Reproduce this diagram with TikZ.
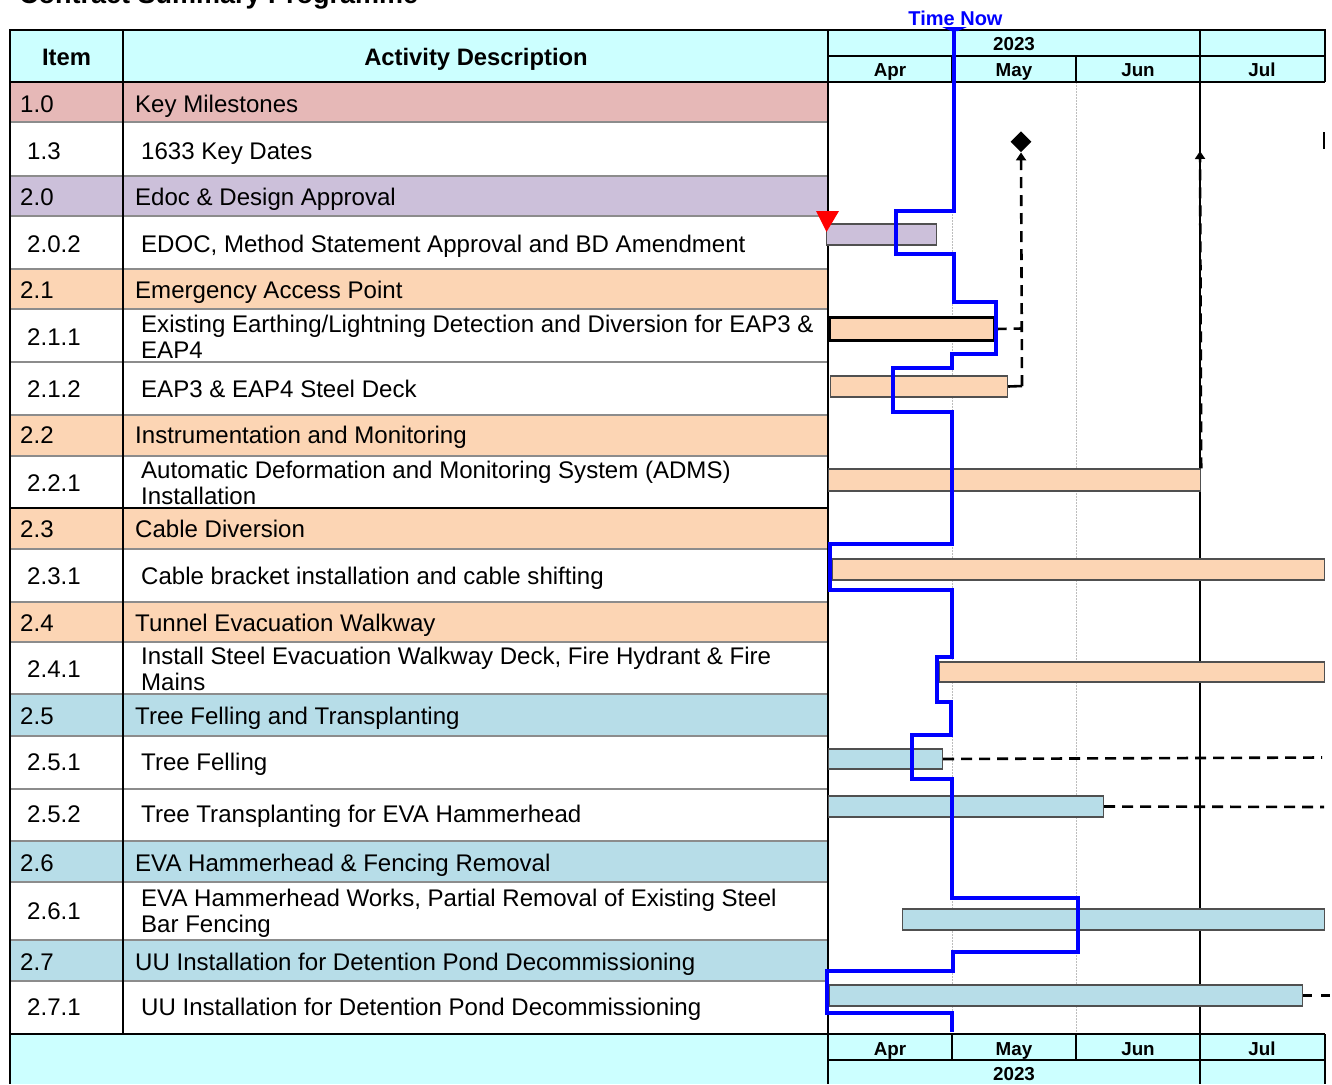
\documentclass[tikz,border=0pt]{standalone}
\usepackage{fontspec}
\setmainfont{Liberation Sans}
\usetikzlibrary{shapes.geometric,arrows.meta}
\definecolor{hdrc}{HTML}{CCFFFF}
\definecolor{pinkc}{HTML}{E6B8B7}
\definecolor{lavc}{HTML}{CCC0DA}
\definecolor{peachc}{HTML}{FCD5B4}
\definecolor{bluec}{HTML}{B7DDE8}
\definecolor{sepc}{HTML}{8C8C8C}
\definecolor{gridc}{HTML}{BDBDBD}
\definecolor{barb}{HTML}{505050}
\definecolor{nowc}{HTML}{0000FF}
\newcommand\rowfont{\fontsize{24.05}{26}\selectfont}
\newcommand\hdrfont{\bfseries\fontsize{23.8}{26}\selectfont}
\newcommand\monfont{\bfseries\fontsize{18.8}{20}\selectfont}
\tikzset{
  rowtxt/.style={anchor=base west, inner sep=0pt, font=\rowfont, text=black},
  hdrtxt/.style={anchor=base, inner sep=0pt, font=\hdrfont},
  montxt/.style={anchor=base, inner sep=0pt, font=\monfont},
  ganttbar/.style={draw=barb, line width=1.2pt, anchor=west, inner sep=0pt, minimum height=21},
  sepline/.style={draw=sepc, line width=1.2pt},
  frameline/.style={draw=black, line width=2pt},
  gridline/.style={draw=gridc, line width=1pt, dash pattern=on 1.5pt off 1.5pt},
  linkdash/.style={draw=black, line width=2.6pt, dash pattern=on 11pt off 7pt},
  nowline/.style={draw=nowc, line width=4pt, line join=miter},
}
\begin{document}
\begin{tikzpicture}[x=1pt,y=-1pt]
\useasboundingbox (0,0) rectangle (1332,1084);
\clip (0,0) rectangle (1332,1084);
% title (cut off at top, as in the reference)
\node[anchor=base west, inner sep=0pt, font=\bfseries\fontsize{27}{30}\selectfont] (title) at (19,4) {Contract Summary Programme};
% backgrounds
\fill[hdrc] (10,30) rectangle (828,82);
\fill[hdrc] (828,30) rectangle (1325,82);
\fill[hdrc] (10,1034) rectangle (828,1084);
\fill[hdrc] (828,1034) rectangle (1325,1084);
\fill[pinkc] (10,82) rectangle (828,122);
\fill[lavc] (10,176) rectangle (828,216);
\fill[peachc] (10,269) rectangle (828,309);
\fill[peachc] (10,415) rectangle (828,456);
\fill[peachc] (10,508) rectangle (828,549);
\fill[peachc] (10,602) rectangle (828,642);
\fill[bluec] (10,694) rectangle (828,736);
\fill[bluec] (10,841) rectangle (828,882);
\fill[bluec] (10,940) rectangle (828,981);
% row separators
\foreach \yy in {122,176,216,269,309,362,415,456,549,602,642,694,736,789,841,882,940,981}
  \draw[sepline] (10,\yy) -- (828,\yy);
\draw[frameline] (10,82) -- (828,82);
\draw[frameline] (10,508) -- (828,508);
\draw[frameline] (10,1034) -- (828,1034);
% gantt grid
\draw[gridline] (952,82) -- (952,1034);
\draw[gridline] (1076,82) -- (1076,1034);
\draw[frameline] (1200,30) -- (1200,1084);
% gantt header/footer
\draw[frameline] (828,30) -- (1325,30) -- (1325,82);
\draw[frameline] (828,56) -- (1325,56);
\draw[frameline] (828,82) -- (1325,82);
\draw[frameline] (952,56) -- (952,82);
\draw[frameline] (1076,56) -- (1076,82);
\draw[frameline] (828,1034) -- (1325,1034);
\draw[frameline] (828,1060) -- (1325,1060);
\draw[frameline] (1325,1034) -- (1325,1084);
\draw[frameline] (952,1034) -- (952,1060);
\draw[frameline] (1076,1034) -- (1076,1060);
% frame of left table
\draw[frameline] (10,30) -- (828,30);
\draw[draw=black, line width=2.4pt] (10,29) -- (10,1084);
\draw[draw=black, line width=1.4pt] (123,30) -- (123,1034);
\draw[draw=black, line width=2.4pt] (828,30) -- (828,1084);
% header texts
\node[hdrtxt] (hitem) at (66.5,65) {Item};
\node[hdrtxt] (hdesc) at (476,65) {Activity Description};
\node[montxt] (yr) at (1014,50) {2023};
\node[montxt] (mapr) at (890,76) {Apr};
\node[montxt] (mmay) at (1014,76) {May};
\node[montxt] (mjun) at (1138,76) {Jun};
\node[montxt] (mjul) at (1262,76) {Jul};
\node[montxt] (fapr) at (890,1055) {Apr};
\node[montxt] (fmay) at (1014,1055) {May};
\node[montxt] (fjun) at (1138,1055) {Jun};
\node[montxt] (fjul) at (1262,1055) {Jul};
\node[montxt] (fyr) at (1014,1080) {2023};
\node[anchor=base, inner sep=0pt, font=\bfseries\fontsize{20}{22}\selectfont, text=nowc] (tnow) at (955.5,25) {Time Now};
% rows: numbers
\node[rowtxt] (n10) at (20,112) {1.0};
\node[rowtxt] (n13) at (27,159) {1.3};
\node[rowtxt] (n20) at (20,205) {2.0};
\node[rowtxt] (n202) at (27,252.5) {2.0.2};
\node[rowtxt] (n21) at (20,298.5) {2.1};
\node[rowtxt] (n211) at (27,345) {2.1.1};
\node[rowtxt] (n212) at (27,397) {2.1.2};
\node[rowtxt] (n22) at (20,443) {2.2};
\node[rowtxt] (n221) at (27,491.5) {2.2.1};
\node[rowtxt] (n23) at (20,537.5) {2.3};
\node[rowtxt] (n231) at (27,584) {2.3.1};
\node[rowtxt] (n24) at (20,631) {2.4};
\node[rowtxt] (n241) at (27,677) {2.4.1};
\node[rowtxt] (n25) at (20,724) {2.5};
\node[rowtxt] (n251) at (27,770.5) {2.5.1};
\node[rowtxt] (n252) at (27,822.5) {2.5.2};
\node[rowtxt] (n26) at (20,871) {2.6};
\node[rowtxt] (n261) at (27,919) {2.6.1};
\node[rowtxt] (n27) at (20,970) {2.7};
\node[rowtxt] (n271) at (27,1015.5) {2.7.1};
% rows: descriptions
\node[rowtxt] (d10) at (135,112) {Key Milestones};
\node[rowtxt] (d13) at (141,159) {1633 Key Dates};
\node[rowtxt] (d20) at (135,205) {Edoc \& Design Approval};
\node[rowtxt] (d202) at (141,252.5) {EDOC, Method Statement Approval and BD Amendment};
\node[rowtxt] (d21) at (135,298.5) {Emergency Access Point};
\node[rowtxt] (d211a) at (141,332.5) {Existing Earthing/Lightning Detection and Diversion for EAP3 \&};
\node[rowtxt] (d211b) at (141,358.5) {EAP4};
\node[rowtxt] (d212) at (141,397) {EAP3 \& EAP4 Steel Deck};
\node[rowtxt] (d22) at (135,443) {Instrumentation and Monitoring};
\node[rowtxt] (d221a) at (141,478.5) {Automatic Deformation and Monitoring System (ADMS)};
\node[rowtxt] (d221b) at (141,504.5) {Installation};
\node[rowtxt] (d23) at (135,537.5) {Cable Diversion};
\node[rowtxt] (d231) at (141,584) {Cable bracket installation and cable shifting};
\node[rowtxt] (d24) at (135,631) {Tunnel Evacuation Walkway};
\node[rowtxt] (d241a) at (141,664) {Install Steel Evacuation Walkway Deck, Fire Hydrant \& Fire};
\node[rowtxt] (d241b) at (141,690) {Mains};
\node[rowtxt] (d25) at (135,724) {Tree Felling and Transplanting};
\node[rowtxt] (d251) at (141,770.5) {Tree Felling};
\node[rowtxt] (d252) at (141,822.5) {Tree Transplanting for EVA Hammerhead};
\node[rowtxt] (d26) at (135,871) {EVA Hammerhead \& Fencing Removal};
\node[rowtxt] (d261a) at (141,906.5) {EVA Hammerhead Works, Partial Removal of Existing Steel};
\node[rowtxt] (d261b) at (141,932.5) {Bar Fencing};
\node[rowtxt] (d27) at (135,970) {UU Installation for Detention Pond Decommissioning};
\node[rowtxt] (d271) at (141,1015.5) {UU Installation for Detention Pond Decommissioning};
% bars
\node[ganttbar, fill=lavc, minimum width=110] (b202) at (826,234.5) {};
\node[ganttbar, fill=peachc, draw=black, line width=2.6pt, minimum width=165, minimum height=23] (b211) at (828,329) {};
\node[ganttbar, fill=peachc, minimum width=177] (b212) at (830,386.5) {};
\node[ganttbar, fill=peachc, minimum width=372, minimum height=22] (b221) at (828,480) {};
\node[ganttbar, fill=peachc, minimum width=492] (b231) at (832,569.5) {};
\node[ganttbar, fill=peachc, minimum width=385, minimum height=20] (b241) at (939,672) {};
\node[ganttbar, fill=bluec, minimum width=114, minimum height=20] (b251) at (828,759) {};
\node[ganttbar, fill=bluec, minimum width=275] (b252) at (828,806.5) {};
\node[ganttbar, fill=bluec, minimum width=422] (b261) at (902,919.5) {};
\node[ganttbar, fill=bluec, minimum width=473] (b271) at (829,995.5) {};
% milestone
\node[diamond, fill=black, inner sep=0pt, minimum width=21, minimum height=21] (ms) at (1021,141.7) {};
\draw[draw=black, line width=2pt] (1324,132) -- (1324,149);
% connectors
\coordinate (c0) at (1022,328.5);
\coordinate (c1) at (1022,386);
\coordinate (c2) at (1200,151);
\coordinate (e1) at (1322,757.5);
\coordinate (e2) at (1324,807);
\coordinate (e3) at (1332,995.5);
\draw[linkdash] (b211.east) -- (c0);
\draw[draw=black, line width=2.6pt] (b212.east) -- (c1);
\draw[linkdash, -{Triangle[width=10pt,length=8pt]}] (c1) -- (ms.south);
\draw[linkdash, -{Triangle[width=10pt,length=8pt]}] (b221.north east) -- (c2);
\draw[linkdash] (b251.east) -- (e1);
\draw[linkdash] (b252.east) -- (e2);
\draw[draw=black, line width=2.6pt, dash pattern=on 9pt off 9pt] (b271.east) -- (e3);
% time now line
\fill[nowc] (942,27) -- (967,27) -- (958,31) -- (951,31) -- cycle;
\draw[nowline] (954.3,29) -- (954.3,210.7) -- (896,210.7) -- (896,254.3) -- (954.3,254.3)
  -- (954.3,301.7) -- (995.7,301.7) -- (995.7,354.3) -- (951.7,354.3) -- (951.7,367.7)
  -- (892.7,367.7) -- (892.7,411.7) -- (952.3,411.7) -- (952.3,544.3) -- (830,544.3)
  -- (830,590) -- (952.3,590) -- (952.3,656.7) -- (937.3,656.7) -- (937.3,701.7)
  -- (951,701.7) -- (951,735) -- (912.3,735) -- (912.3,779.3) -- (951.7,779.3)
  -- (951.7,897.7) -- (1078.3,897.7) -- (1078.3,951.7) -- (952.7,951.7) -- (952.7,970.7)
  -- (827.3,970.7) -- (827.3,1013.3) -- (951.7,1013.3) -- (951.7,1031.7);
% data date marker
\fill[red] (816,211) -- (839,211) -- (826.5,232) -- cycle;
\end{tikzpicture}
\end{document}
